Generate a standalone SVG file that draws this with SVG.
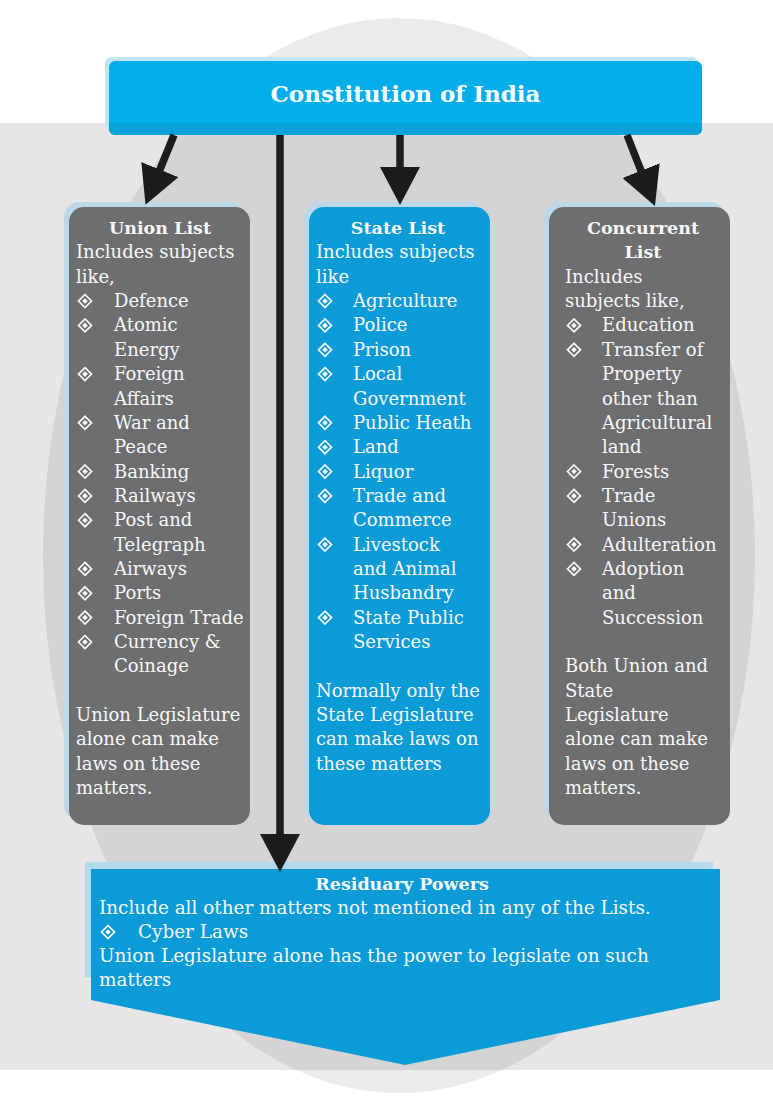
<svg xmlns="http://www.w3.org/2000/svg" xmlns:xlink="http://www.w3.org/1999/xlink" width="773" height="1113" viewBox="0 0 773 1113">
  <style>
    .t { font-family: "DejaVu Serif", "Liberation Serif", serif; font-size: 18px; fill: #f8f8f8; }
    .r { font-size: 18.4px; }
    .hd { font-family: "DejaVu Serif", "Liberation Serif", serif; font-size: 17.5px; font-weight: bold; fill: #f8f8f8; text-anchor: middle; }
    .ttl { font-family: "DejaVu Serif", "Liberation Serif", serif; font-size: 23px; font-weight: bold; fill: #ffffff; text-anchor: middle; }
    .grey { fill: #6d6e70; }
    .blue { fill: #0b9bd6; }
    .glow { fill: #bcd8e8; }
    .conn { stroke: #1c1c1c; stroke-width: 7.5; fill: none; marker-end: url(#ah); }
  </style>
  <defs>
    <marker id="ah" viewBox="0 -20 38 40" markerWidth="38" markerHeight="40" refX="1" refY="0" orient="auto" markerUnits="userSpaceOnUse">
      <path d="M0,-20 L38,0 L0,20 Z" fill="#1c1c1c"/>
    </marker>
    <g id="dia">
      <path d="M0,-6.5 L6.5,0 L0,6.5 L-6.5,0 Z" fill="none" stroke="#f8f8f8" stroke-width="1.7"/>
      <path d="M0,-2.8 L2.8,0 L0,2.8 L-2.8,0 Z" fill="#f8f8f8"/>
    </g>
  </defs>

  <g id="background">
    <rect x="0" y="0" width="773" height="1113" fill="#ffffff"/>
    <rect x="0" y="123" width="773" height="947" fill="#e6e6e6"/>
    <ellipse cx="399" cy="555.5" rx="356" ry="537.5" fill="#000000" fill-opacity="0.08"/>
  </g>

  <g id="node-constitution">
    <rect x="105" y="57" width="593" height="74" rx="6" fill="#c3e6f7"/>
    <rect x="109" y="61" width="593" height="74" rx="6" fill="#03aeeb"/>
    <path d="M109,123 H702 V129 A6,6 0 0 1 696,135 H115 A6,6 0 0 1 109,129 Z" fill="#0aa1d8"/>
    <text class="ttl" x="405.5" y="102">Constitution of India</text>
  </g>

  <g id="node-union-list">
    <rect class="glow" x="64" y="202" width="181" height="618" rx="15"/>
    <rect class="grey" x="69" y="207" width="181" height="618" rx="15"/>
    <text class="hd" x="160" y="234">Union List</text>
    <text class="t" x="76" y="258.4">Includes subjects</text>
    <text class="t" x="76" y="282.7">like,</text>
    <use href="#dia" x="85" y="301"/><text class="t" x="114" y="307">Defence</text>
    <use href="#dia" x="85" y="325.4"/><text class="t" x="114" y="331.4">Atomic</text>
    <text class="t" x="114" y="355.8">Energy</text>
    <use href="#dia" x="85" y="374.1"/><text class="t" x="114" y="380.1">Foreign</text>
    <text class="t" x="114" y="404.5">Affairs</text>
    <use href="#dia" x="85" y="422.8"/><text class="t" x="114" y="428.8">War and</text>
    <text class="t" x="114" y="453.2">Peace</text>
    <use href="#dia" x="85" y="471.5"/><text class="t" x="114" y="477.5">Banking</text>
    <use href="#dia" x="85" y="495.9"/><text class="t" x="114" y="501.9">Railways</text>
    <use href="#dia" x="85" y="520.2"/><text class="t" x="114" y="526.2">Post and</text>
    <text class="t" x="114" y="550.6">Telegraph</text>
    <use href="#dia" x="85" y="568.9"/><text class="t" x="114" y="574.9">Airways</text>
    <use href="#dia" x="85" y="593.3"/><text class="t" x="114" y="599.3">Ports</text>
    <use href="#dia" x="85" y="617.6"/><text class="t" x="114" y="623.6">Foreign Trade</text>
    <use href="#dia" x="85" y="642"/><text class="t" x="114" y="648">Currency &amp;</text>
    <text class="t" x="114" y="672.3">Coinage</text>
    <text class="t" x="76" y="721">Union Legislature</text>
    <text class="t" x="76" y="745.4">alone can make</text>
    <text class="t" x="76" y="769.7">laws on these</text>
    <text class="t" x="76" y="794">matters.</text>
  </g>

  <g id="node-state-list">
    <rect class="glow" x="304" y="202" width="181" height="618" rx="15"/>
    <rect class="blue" x="309" y="207" width="181" height="618" rx="15"/>
    <text class="hd" x="398" y="234">State List</text>
    <text class="t" x="316" y="258.4">Includes subjects</text>
    <text class="t" x="316" y="282.7">like</text>
    <use href="#dia" x="325" y="301"/><text class="t" x="353" y="307">Agriculture</text>
    <use href="#dia" x="325" y="325.4"/><text class="t" x="353" y="331.4">Police</text>
    <use href="#dia" x="325" y="349.8"/><text class="t" x="353" y="355.8">Prison</text>
    <use href="#dia" x="325" y="374.1"/><text class="t" x="353" y="380.1">Local</text>
    <text class="t" x="353" y="404.5">Government</text>
    <use href="#dia" x="325" y="422.8"/><text class="t" x="353" y="428.8">Public Heath</text>
    <use href="#dia" x="325" y="447.2"/><text class="t" x="353" y="453.2">Land</text>
    <use href="#dia" x="325" y="471.5"/><text class="t" x="353" y="477.5">Liquor</text>
    <use href="#dia" x="325" y="495.9"/><text class="t" x="353" y="501.9">Trade and</text>
    <text class="t" x="353" y="526.2">Commerce</text>
    <use href="#dia" x="325" y="544.6"/><text class="t" x="353" y="550.6">Livestock</text>
    <text class="t" x="353" y="574.9">and Animal</text>
    <text class="t" x="353" y="599.3">Husbandry</text>
    <use href="#dia" x="325" y="617.6"/><text class="t" x="353" y="623.6">State Public</text>
    <text class="t" x="353" y="648">Services</text>
    <text class="t" x="316" y="696.7">Normally only the</text>
    <text class="t" x="316" y="721">State Legislature</text>
    <text class="t" x="316" y="745.4">can make laws on</text>
    <text class="t" x="316" y="769.7">these matters</text>
  </g>

  <g id="node-concurrent-list">
    <rect class="glow" x="544" y="202" width="181" height="618" rx="15"/>
    <rect class="grey" x="549" y="207" width="181" height="618" rx="15"/>
    <text class="hd" x="643" y="234">Concurrent</text>
    <text class="hd" x="643" y="258.4">List</text>
    <text class="t" x="565" y="282.7">Includes</text>
    <text class="t" x="565" y="307">subjects like,</text>
    <use href="#dia" x="574" y="325.4"/><text class="t" x="602" y="331.4">Education</text>
    <use href="#dia" x="574" y="349.8"/><text class="t" x="602" y="355.8">Transfer of</text>
    <text class="t" x="602" y="380.1">Property</text>
    <text class="t" x="602" y="404.5">other than</text>
    <text class="t" x="602" y="428.8">Agricultural</text>
    <text class="t" x="602" y="453.2">land</text>
    <use href="#dia" x="574" y="471.5"/><text class="t" x="602" y="477.5">Forests</text>
    <use href="#dia" x="574" y="495.9"/><text class="t" x="602" y="501.9">Trade</text>
    <text class="t" x="602" y="526.2">Unions</text>
    <use href="#dia" x="574" y="544.6"/><text class="t" x="602" y="550.6">Adulteration</text>
    <use href="#dia" x="574" y="568.9"/><text class="t" x="602" y="574.9">Adoption</text>
    <text class="t" x="602" y="599.3">and</text>
    <text class="t" x="602" y="623.6">Succession</text>
    <text class="t" x="565" y="672.3">Both Union and</text>
    <text class="t" x="565" y="696.7">State</text>
    <text class="t" x="565" y="721">Legislature</text>
    <text class="t" x="565" y="745.4">alone can make</text>
    <text class="t" x="565" y="769.7">laws on these</text>
    <text class="t" x="565" y="794">matters.</text>
  </g>

  <g id="node-residuary-powers">
    <rect x="85" y="862" width="628" height="115" fill="#b3dbef"/>
    <path d="M91,869 H720 V1000 L405,1065 L91,1000 Z" fill="#0b9bd6"/>
    <text class="hd" x="402" y="890">Residuary Powers</text>
    <text class="t r" x="99" y="914">Include all other matters not mentioned in any of the Lists.</text>
    <use href="#dia" x="108" y="932"/><text class="t r" x="138" y="938">Cyber Laws</text>
    <text class="t r" x="99" y="962">Union Legislature alone has the power to legislate on such</text>
    <text class="t r" x="99" y="986">matters</text>
  </g>

  <g id="connectors">
    <line class="conn" x1="174" y1="135" x2="159.5" y2="170.5"/>
    <line class="conn" x1="280" y1="135" x2="280" y2="835"/>
    <line class="conn" x1="400" y1="135" x2="400" y2="168"/>
    <line class="conn" x1="627" y1="135" x2="641.4" y2="171.6"/>
  </g>
</svg>
